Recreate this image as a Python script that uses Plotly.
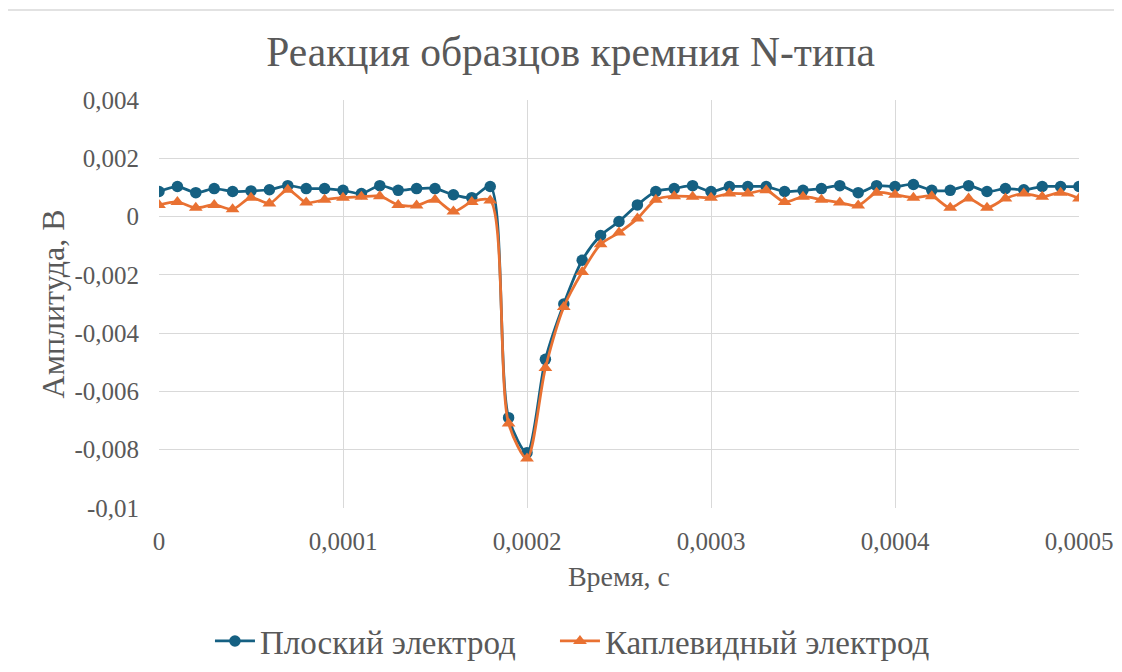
import plotly.graph_objects as go

time_s = [i * 0.00001 for i in range(51)]

flat_electrode = [
    0.00086, 0.00103, 0.00082, 0.00096, 0.00086, 0.00088, 0.00092, 0.00106, 0.00096, 0.00096,
    0.00090, 0.00079, 0.00106, 0.00090, 0.00096, 0.00096, 0.00075, 0.00065, 0.00103, -0.0069,
    -0.0081, -0.0049, -0.0030, -0.0015, -0.00065, -0.00017, 0.00040, 0.00086, 0.00096, 0.00106,
    0.00086, 0.00103, 0.00103, 0.00103, 0.00086, 0.00090, 0.00096, 0.00106, 0.00082, 0.00106,
    0.00103, 0.00110, 0.00090, 0.00090, 0.00106, 0.00086, 0.00096, 0.00092, 0.00103, 0.00103,
    0.00103,
]

drop_electrode = [
    0.00040, 0.00050, 0.00030, 0.00040, 0.00025, 0.00065, 0.00045, 0.00092, 0.00048, 0.00058,
    0.00065, 0.00068, 0.00070, 0.00040, 0.00038, 0.00058, 0.00017, 0.00050, 0.00055, -0.0071,
    -0.0083, -0.0052, -0.0031, -0.0019, -0.00095, -0.00055, -0.00007, 0.00058, 0.00070, 0.00068,
    0.00065, 0.00079, 0.00079, 0.00090, 0.00050, 0.00068, 0.00058, 0.00048, 0.00038, 0.00082,
    0.00075, 0.00065, 0.00070, 0.00030, 0.00062, 0.00030, 0.00062, 0.00079, 0.00068, 0.00082,
    0.00062,
]

x_tickvals = [0, 0.0001, 0.0002, 0.0003, 0.0004, 0.0005]
x_ticktext = ["0", "0,0001", "0,0002", "0,0003", "0,0004", "0,0005"]
y_tickvals = [0.004, 0.002, 0, -0.002, -0.004, -0.006, -0.008, -0.01]
y_ticktext = ["0,004", "0,002", "0", "-0,002", "-0,004", "-0,006", "-0,008", "-0,01"]

BLUE = "#156082"
ORANGE = "#E97132"
TXT = "#595959"
FONT = "Liberation Serif, Times New Roman, serif"

fig = go.Figure()
fig.add_trace(go.Scatter(
    x=time_s, y=flat_electrode, name="Плоский электрод", legend="legend",
    mode="lines+markers", line=dict(color=BLUE, width=2.75, shape="spline", smoothing=0.8),
    marker=dict(symbol="circle", size=11.5, color=BLUE),
))
fig.add_trace(go.Scatter(
    x=time_s, y=drop_electrode, name="Каплевидный электрод", legend="legend2",
    mode="lines+markers", line=dict(color=ORANGE, width=2.75, shape="spline", smoothing=0.8),
    marker=dict(symbol="triangle-up", size=12, color=ORANGE),
))

legend_common = dict(orientation="h", xanchor="left", y=-0.326, yanchor="middle",
                     font=dict(family=FONT, size=33, color=TXT), itemwidth=40,
                     bgcolor="rgba(0,0,0,0)")

fig.update_layout(
    width=1114, height=664,
    paper_bgcolor="white", plot_bgcolor="white",
    margin=dict(l=151, r=43, t=92, b=164, autoexpand=False),
    font=dict(family=FONT, color=TXT, size=25),
    title=dict(text="Реакция образцов кремния N-типа", x=0.505, xanchor="center",
               y=0.934, yanchor="middle", font=dict(family=FONT, size=41.5, color=TXT)),
    xaxis=dict(range=[0, 0.0005], tickvals=x_tickvals, ticktext=x_ticktext,
               showgrid=True, gridcolor="#d9d9d9", gridwidth=1, zeroline=False,
               showline=False, ticks="", tickfont=dict(family=FONT, size=25, color=TXT),
               ticklabelstandoff=16,
               title=dict(text="Время, с", font=dict(family=FONT, size=28, color=TXT), standoff=12)),
    yaxis=dict(range=[-0.01, 0.004], tickvals=y_tickvals, ticktext=y_ticktext,
               showgrid=True, gridcolor="#d9d9d9", gridwidth=1, zeroline=False,
               showline=False, ticks="", tickfont=dict(family=FONT, size=25, color=TXT),
               ticklabelstandoff=19,
               title=dict(text="Амплитуда, В", font=dict(family=FONT, size=32, color=TXT), standoff=0)),
    legend=dict(x=0.0554, **legend_common),
    legend2=dict(x=0.4304, **legend_common),
    showlegend=True,
)

fig.add_shape(type="rect", xref="paper", yref="paper",
              x0=-0.1674, x1=1.0413, y0=-0.42, y1=1.2206,
              line=dict(color="#d9d9d9", width=1.5), fillcolor="rgba(0,0,0,0)", layer="below")

fig.write_html("out.html")
